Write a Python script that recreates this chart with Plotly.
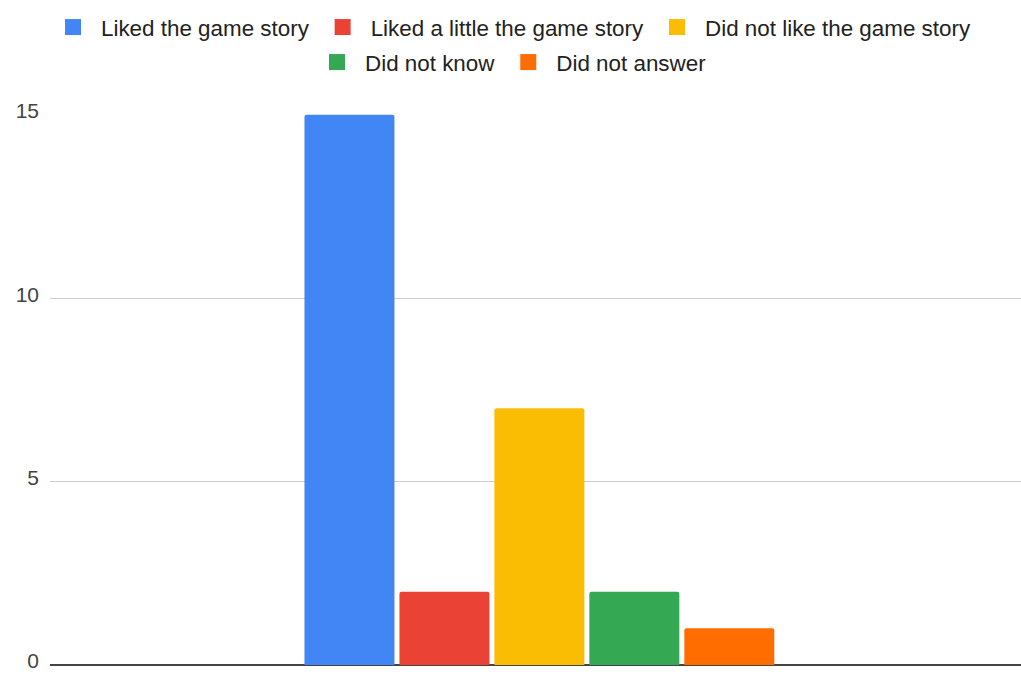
import plotly.graph_objects as go

category = ["Responses"]
series_names = [
    "Liked the game story",
    "Liked a little the game story",
    "Did not like the game story",
    "Did not know",
    "Did not answer",
]
series_values = [15, 2, 7, 2, 1]
series_colors = ["#4285F4", "#EA4335", "#FBBC04", "#34A853", "#FF6D01"]
y_ticks = [0, 5, 10, 15]

FONT = "Liberation Sans, Arial, sans-serif"

fig = go.Figure()
for name, val, col in zip(series_names, series_values, series_colors):
    fig.add_trace(go.Bar(
        x=category, y=[val], name=name,
        marker=dict(color=col, line=dict(width=0), cornerradius=2),
        showlegend=False, legendgroup=name,
    ))
for i, (name, col) in enumerate(zip(series_names, series_colors)):
    fig.add_trace(go.Scatter(
        x=[None], y=[None], mode="markers", name=name, legendgroup=name,
        marker=dict(symbol="square", size=16, color=col),
        legend="legend" if i < 3 else "legend2",
    ))

legend_common = dict(
    orientation="h", xref="container", yref="container", x=0.5, xanchor="center",
    yanchor="top", font=dict(family=FONT, size=22.4, color="#222222"),
    bgcolor="rgba(0,0,0,0)", itemsizing="trace", itemclick=False, itemdoubleclick=False,
    tracegroupgap=0, traceorder="normal", itemwidth=46,
)

fig.update_layout(
    width=1021, height=675,
    paper_bgcolor="white", plot_bgcolor="white",
    margin=dict(l=50, r=0, t=114, b=10, autoexpand=False),
    barmode="group", bargap=0.511, bargroupgap=0.0526,
    legend=dict(**legend_common, y=1 - 6 / 675),
    legend2=dict(**legend_common, y=1 - 41 / 675),
    xaxis=dict(showticklabels=False, showgrid=False, zeroline=False, showline=False,
               ticks="", range=[-0.504, 0.496]),
    yaxis=dict(
        range=[0, 15.02], tickvals=y_ticks, ticktext=[str(t) for t in y_ticks],
        showgrid=True, gridcolor="#cccccc", gridwidth=1,
        zeroline=True, zerolinecolor="#444444", zerolinewidth=2,
        tickfont=dict(family=FONT, size=21, color="#444444"),
        ticks="", ticklabelstandoff=10, ticklabelshift=-4,
        showline=False, ticklabeloverflow="allow",
    ),
)

fig.write_html("out.html", config={"displayModeBar": False},
               post_script="document.body.style.margin='0';")
